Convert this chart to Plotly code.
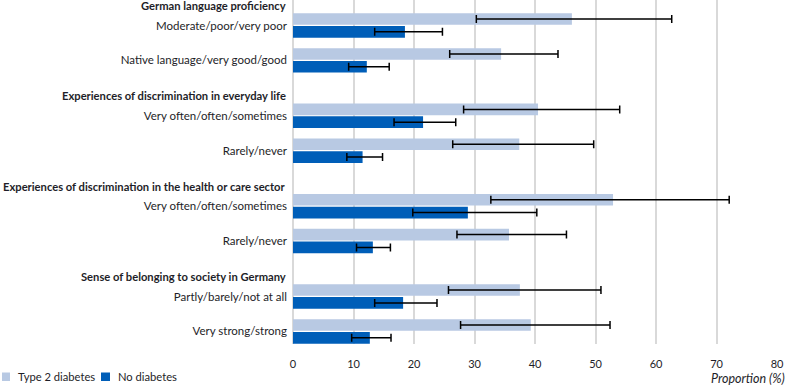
import plotly.graph_objects as go

groups = [
    "German language proficiency",
    "Experiences of discrimination in everyday life",
    "Experiences of discrimination in the health or care sector",
    "Sense of belonging to society in Germany",
]
categories = [
    "Moderate/poor/very poor",
    "Native language/very good/good",
    "Very often/often/sometimes",
    "Rarely/never",
    "Very often/often/sometimes",
    "Rarely/never",
    "Partly/barely/not at all",
    "Very strong/strong",
]
series_names = ["Type 2 diabetes", "No diabetes"]
t2d_val = [46.1, 34.4, 40.5, 37.4, 52.9, 35.7, 37.5, 39.3]
t2d_low = [30.3, 25.9, 28.2, 26.4, 32.7, 27.1, 25.7, 27.7]
t2d_high = [62.6, 43.8, 54.0, 49.7, 72.1, 45.2, 50.9, 52.4]
nd_val = [18.5, 12.2, 21.5, 11.5, 28.9, 13.2, 18.2, 12.7]
nd_low = [13.5, 9.2, 16.7, 8.9, 19.8, 10.5, 13.5, 9.7]
nd_high = [24.7, 15.9, 26.9, 14.8, 40.3, 16.1, 23.8, 16.2]
x_ticks = [0, 10, 20, 30, 40, 50, 60, 70, 80]

# layout constants
W, H = 785, 385
ML, MR, MT, MB = 293, 8, 0, 41
GROUP_GAP = 2.59
HEADER_OFF = -0.57
ypos = [g * GROUP_GAP + i for g in range(4) for i in range(2)]
ypos_head = [g * GROUP_GAP + HEADER_OFF for g in range(4)]

LIGHT = "#B8C9E3"
DARK = "#005EB8"
COLORS = [LIGHT, DARK]
FONT = "Lato"
TXT = "#1e1e28"
LBL = 11.5
BOLD = 11.2

fig = go.Figure()
fig.add_trace(go.Bar(
    name=series_names[0], orientation="h", y=ypos, x=t2d_val,
    offset=-0.35, width=0.33, marker=dict(color=LIGHT, line=dict(width=0)),
    error_x=dict(type="data", symmetric=False,
                 array=[h - v for h, v in zip(t2d_high, t2d_val)],
                 arrayminus=[v - l for v, l in zip(t2d_val, t2d_low)],
                 color="black", thickness=1.5, width=4),
))
fig.add_trace(go.Bar(
    name=series_names[1], orientation="h", y=ypos, x=nd_val,
    offset=0.015, width=0.335, marker=dict(color=DARK, line=dict(width=0)),
    error_x=dict(type="data", symmetric=False,
                 array=[h - v for h, v in zip(nd_high, nd_val)],
                 arrayminus=[v - l for v, l in zip(nd_val, nd_low)],
                 color="black", thickness=1.5, width=4),
))

pw = W - ML - MR
ph = H - MT - MB


def px_x(p):
    return (p - ML) / pw


def px_y(p):
    return (H - MB - p) / ph


annotations = []
for g, yh in zip(groups, ypos_head):
    annotations.append(dict(text="<b>" + g + "</b>", xref="paper", yref="y",
                            x=0, y=yh, xanchor="right", yanchor="middle",
                            xshift=-5, showarrow=False,
                            font=dict(size=BOLD, color=TXT, family=FONT)))
annotations.append(dict(text="<i>Proportion (%)</i>", xref="paper", yref="paper",
                        x=px_x(787), y=px_y(378), xanchor="right", yanchor="middle",
                        showarrow=False, font=dict(size=12.5, color=TXT, family=FONT)))

# manual legend
legend_items = [(2, 10, 16), (101, 110, 116)]
shapes = []
for (x0, x1, xt), name, col in zip(legend_items, series_names, COLORS):
    shapes.append(dict(type="rect", xref="paper", yref="paper",
                       x0=px_x(x0), x1=px_x(x1), y0=px_y(381), y1=px_y(372.5),
                       fillcolor=col, line=dict(width=0), layer="above"))
    annotations.append(dict(text=name, xref="paper", yref="paper",
                            x=px_x(xt), y=px_y(376.5), xanchor="left", yanchor="middle",
                            showarrow=False, font=dict(size=11.2, color=TXT, family=FONT)))

fig.update_layout(
    width=W, height=H,
    margin=dict(l=ML, r=MR, t=MT, b=MB, autoexpand=False),
    plot_bgcolor="white", paper_bgcolor="white",
    font=dict(family=FONT, size=12, color=TXT),
    showlegend=False,
    xaxis=dict(range=[0, 80], tickvals=x_ticks, showgrid=True, automargin=False,
               gridcolor="#d9d9d9", gridwidth=1.5, zeroline=True,
               zerolinecolor="#d9d9d9", zerolinewidth=1.5,
               ticks="", ticklabelstandoff=12,
               tickfont=dict(size=11, color=TXT), showline=False),
    yaxis=dict(range=[9.13, -0.73], tickvals=ypos, ticktext=categories,
               showgrid=False, zeroline=False, showline=False, automargin=False,
               ticks="", ticklabelstandoff=5,
               tickfont=dict(size=LBL, color=TXT)),
    annotations=annotations,
    shapes=shapes,
)

fig.write_html("out.html")
